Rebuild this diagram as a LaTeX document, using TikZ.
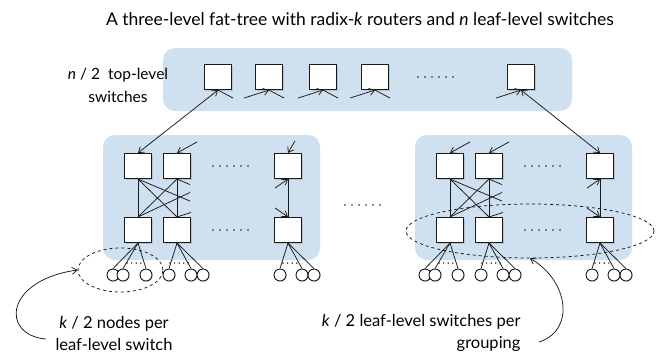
\documentclass[tikz,border=0pt]{standalone}
\usepackage{fontspec}
\setmainfont{Lato}
\usetikzlibrary{arrows.meta,shadows,shapes.geometric,calc}
\definecolor{panelblue}{RGB}{207,224,241}
\definecolor{inkc}{RGB}{25,25,25}
\begin{document}
\begin{tikzpicture}[x=1pt,y=-1pt,
  sw/.style={draw=inkc, line width=1.1pt, fill=white, minimum width=27pt, minimum height=25pt, inner sep=0pt,
    drop shadow={opacity=0.3, shadow xshift=1pt, shadow yshift=-1pt}},
  hostc/.style={circle, draw=inkc, line width=0.9pt, fill=white, minimum size=12pt, inner sep=0pt,
    drop shadow={opacity=0.3, shadow xshift=0.8pt, shadow yshift=-0.8pt}},
  grp/.style={fill=panelblue, rounded corners=12pt},
  lnk/.style={draw=inkc, line width=0.75pt},
  arr/.style={lnk, -{Straight Barb[length=5pt,width=7pt]}},
  biarr/.style={lnk, {Straight Barb[length=5pt,width=7pt]}-{Straight Barb[length=5pt,width=7pt]}},
  dotrow/.style={draw=inkc, line width=1.9pt, line cap=round, dash pattern=on 0pt off 7pt},
  smalldots/.style={draw=inkc, line width=1.6pt, line cap=round, dash pattern=on 0pt off 4.6pt},
  ring/.style={draw=inkc, dashed, line width=0.75pt, ellipse, inner sep=0pt},
  bigtxt/.style={font=\fontsize{17.5}{20}\selectfont},
  midtxt/.style={font=\fontsize{16.5}{22}\selectfont, align=center},
  toptxt/.style={font=\fontsize{15.5}{23}\selectfont, align=center}
]
\useasboundingbox (0,0) rectangle (660,360);
\fill[white] (0,0) rectangle (660,360);

% title
\node[bigtxt] (title) at (360,19) {A three-level fat-tree with radix-\textit{k} routers and \textit{n} leaf-level switches};

% panels
\fill[grp] (163,48) rectangle (572,111);
\fill[grp] (103,135) rectangle (320,260);
\fill[grp] (415,135) rectangle (632,260);

% top-level label
\node[toptxt] (toplbl) at (118,85) {\textit{n} / 2\ \ top-level\\switches};

% top-level switches
\foreach \i/\x in {1/218,2/269,3/323,4/375,6/521}
  \node[sw] (t\i) at (\x,77) {};
\draw[dotrow] (418,77) -- (457,77);

% groups
\foreach \g/\o in {L/0,R/312}{
  \foreach \n/\x in {a/138,b/177,c/288}{
    \node[sw] (\g-\n-t) at (\x+\o,166) {};
    \node[sw] (\g-\n-b) at (\x+\o,230) {};
  }
  \draw[dotrow] (213+\o,166) -- (252+\o,166);
  \draw[dotrow] (213+\o,230) -- (252+\o,230);
  % hosts
  \foreach \n/\x/\d/\e/\f/\s/\u in {a/138/-25/-15/8/-11/6, b/177/-8/14/26/-7/12, c/288/-8/14/26/-5/12}{
    \node[hostc] (\g-\n-h1) at (\x+\o+\d,275) {};
    \node[hostc] (\g-\n-h2) at (\x+\o+\e,275) {};
    \node[hostc] (\g-\n-h3) at (\x+\o+\f,275) {};
    \foreach \k in {1,2,3}
      \draw[lnk] (\g-\n-b.south) -- (\g-\n-h\k.north);
    \draw[smalldots] (\x+\o+\s,263) -- (\x+\o+\u,263);
  }
  % links inside a grouping
  \draw[lnk] (\g-a-t.south) -- (\g-a-b.north);
  \draw[lnk] (\g-a-t.south) -- (\g-b-b.north);
  \draw[lnk] (\g-b-t.south) -- (\g-a-b.north);
  \draw[lnk] (\g-b-t.south) -- (\g-b-b.north);
  \draw[lnk] (\g-a-t.south) -- ++(52,22);
  \draw[lnk] (\g-b-t.south) -- ++(13,5.5);
  \draw[lnk] (\g-a-b.north) -- ++(52,-24.5);
  \draw[lnk] (\g-b-b.north) -- ++(14,-4.5);
  \draw[lnk] (\g-c-t.south) -- (\g-c-b.north);
  \draw[arr] (\g-c-t.south) ++(-13,9) -- (\g-c-t.south);
  \draw[arr] (\g-c-b.north) ++(-13,-9) -- (\g-c-b.north);
  \draw[arr] (\g-b-t.north) ++(20,-11) -- (\g-b-t.north);
}
\draw[arr] (R-a-t.north) ++(20,-11) -- (R-a-t.north);
\draw[arr] (L-c-t.north) ++(7,-12) -- (L-c-t.north);

% links at the top-level switches
\foreach \i in {1,2,3,4}
  \draw[lnk] (t\i.south) -- ++(15,8);
\foreach \i in {2,3,4,6}
  \draw[arr] (t\i.south) ++(-25,8) -- (t\i.south);
\draw[biarr] (L-a-t.north) -- (t1.south);
\draw[biarr] (t6.south) -- (R-c-t.north);

% dots between groupings
\draw[dotrow] (345,205) -- (384,205);

% rings
\node[ring, minimum width=85pt, minimum height=44pt] (lring) at (120.5,270) {};
\node[ring, minimum width=248pt, minimum height=54pt] (rring) at (530,231) {};

% captions
\node[midtxt] (ltxt) at (114,333) {\textit{k} / 2 nodes per\\leaf-level switch};
\node[midtxt, align=right, anchor=east] (rtxt) at (524,333) {\textit{k} / 2 leaf-level switches per\\grouping};

\draw[arr] (46,339) .. controls (0,335) and (5,280) .. (lring.west);
\draw[arr] (539,342) .. controls (576,330) and (568,280) .. (rring.south);
\end{tikzpicture}
\end{document}
